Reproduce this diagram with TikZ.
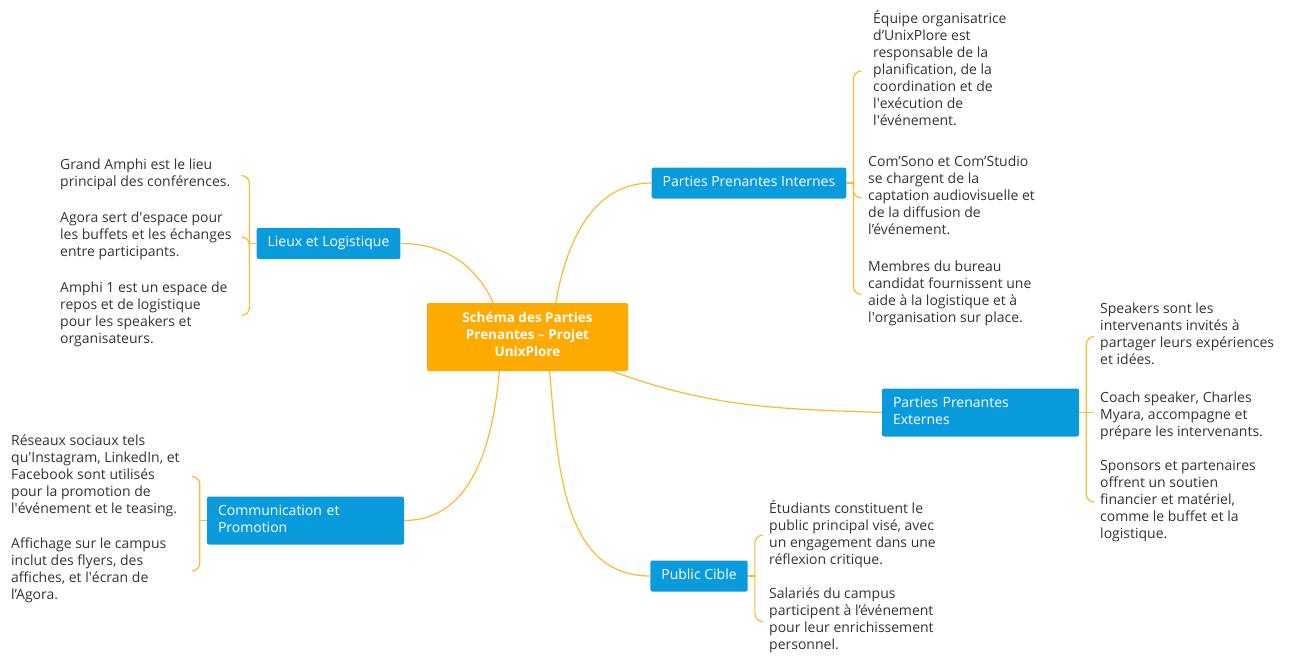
\documentclass[tikz,border=0pt]{standalone}
\usepackage{fontspec}
\setmainfont{Open Sans}
\usetikzlibrary{calc}
\definecolor{topicblue}{HTML}{0A9BDC}
\definecolor{mainorange}{HTML}{FFAA00}
\definecolor{linkorange}{HTML}{FFB833}
\definecolor{leaftext}{HTML}{333333}
\newcommand\sq{\textquotesingle}

\begin{document}
\begin{tikzpicture}[x=1pt,y=-1pt,
    every node/.style={font=\fontsize{14}{17}\selectfont,
                       execute at begin node=\strut, execute at end node=\strut},
    topic/.style={fill=topicblue, text=white, rounded corners=2pt,
                  inner xsep=11pt, inner ysep=7pt},
    leaf/.style={text=leaftext, align=left, anchor=west, yshift=-2pt,
                 inner xsep=6pt, inner ysep=0pt},
    link/.style={draw=linkorange, line width=1.2pt}]
  \useasboundingbox (0,0) rectangle (1298,658);

  \node[fill=mainorange, text=white, rounded corners=2pt, align=center,
        font=\fontsize{13.5}{17}\selectfont\bfseries,
        minimum width=201pt, minimum height=68pt] (schema) at (527.5,337)
        {Schéma des Parties\\Prenantes – Projet\\UnixPlore};

  \node[topic] (lieux) at (328.5,243.5) {Lieux et Logistique};
  \node[topic] (internes) at (749,183) {Parties Prenantes Internes};
  \node[topic, text width=175pt, align=left] (externes) at (980.5,412.5)
        {Parties Prenantes\\Externes};
  \node[topic, text width=175pt, align=left] (comm) at (305.5,520.5)
        {Communication et\\Promotion};
  \node[topic] (cible) at (699,576) {Public Cible};

  % leaves, left side
  \node[leaf] (lieux1) at (54,173.5) {Grand Amphi est le lieu\\principal des conférences.};
  \node[leaf] (lieux2) at (54,235) {Agora sert d\sq espace pour\\les buffets et les échanges\\entre participants.};
  \node[leaf] (lieux3) at (54,313.5) {Amphi 1 est un espace de\\repos et de logistique\\pour les speakers et\\organisateurs.};
  \node[leaf] (comm1) at (5,474.5) {Réseaux sociaux tels\\qu\sq Instagram, LinkedIn, et\\Facebook sont utilisés\\pour la promotion de\\l\sq événement et le teasing.};
  \node[leaf] (comm2) at (5,569) {Affichage sur le campus\\inclut des flyers, des\\affiches, et l\sq écran de\\l’Agora.};

  % leaves, right side
  \node[leaf] (internes1) at (867,69) {Équipe organisatrice\\d’UnixPlore est\\responsable de la\\planification, de la\\coordination et de\\l\sq exécution de\\l\sq événement.};
  \node[leaf] (internes2) at (862,196) {Com’Sono et Com’Studio\\se chargent de la\\captation audiovisuelle et\\de la diffusion de\\l’événement.};
  \node[leaf] (internes3) at (862,292.5) {Membres du bureau\\candidat fournissent une\\aide à la logistique et à\\l\sq organisation sur place.};
  \node[leaf] (externes1) at (1094,334.5) {Speakers sont les\\intervenants invités à\\partager leurs expériences\\et idées.};
  \node[leaf] (externes2) at (1094,414.5) {Coach speaker, Charles\\Myara, accompagne et\\prépare les intervenants.};
  \node[leaf] (externes3) at (1094,500) {Sponsors et partenaires\\offrent un soutien\\financier et matériel,\\comme le buffet et la\\logistique.};
  \node[leaf] (cible1) at (763,533) {Étudiants constituent le\\public principal visé, avec\\un engagement dans une\\réflexion critique.};
  \node[leaf] (cible2) at (763,619.5) {Salariés du campus\\participent à l’événement\\pour leur enrichissement\\personnel.};

  % branches from the centre
  \draw[link] ($(schema.north west)!0.33!(schema.north east)$) to[out=115,in=0] (lieux.east);
  \draw[link] ($(schema.north west)!0.64!(schema.north east)$) to[out=80,in=180] (internes.west);
  \draw[link] ($(schema.south west)!0.36!(schema.south east)$) to[out=-95,in=0] (comm.east);
  \draw[link] ($(schema.south west)!0.61!(schema.south east)$) to[out=-85,in=180] (cible.west);
  \draw[link] ($(schema.south west)!0.92!(schema.south east)$) to[out=-20,in=178] (externes.west);

  % braces on the left
  \draw[link] (lieux.west) -- ++(-7,0) coordinate (lieuxS);
  \foreach \n in {lieux1,lieux2,lieux3}
    \draw[link, rounded corners=8pt] (lieuxS) |- ($(lieuxS |- \n)+(-8,0)$);
  \draw[link] (comm.west) -- ++(-7,0) coordinate (commS);
  \foreach \n in {comm1,comm2}
    \draw[link, rounded corners=8pt] (commS) |- ($(commS |- \n)+(-8,0)$);

  % braces on the right
  \draw[link] (internes.east) -- ++(7,0) coordinate (internesS);
  \foreach \n in {internes1,internes2,internes3}
    \draw[link, rounded corners=8pt] (internesS) |- ($(internesS |- \n)+(8,0)$);
  \draw[link] (cible.east) -- ++(7,0) coordinate (cibleS);
  \foreach \n in {cible1,cible2}
    \draw[link, rounded corners=8pt] (cibleS) |- ($(cibleS |- \n)+(8,0)$);
  \draw[link] (externes.east) -- ++(7,0) coordinate (externesS);
  \foreach \n in {externes1,externes3}
    \draw[link, rounded corners=8pt] (externesS) |- ($(externesS |- \n)+(8,0)$);
  \draw[link] (externesS) -- (externesS -| externes2.west);

\end{tikzpicture}
\end{document}
